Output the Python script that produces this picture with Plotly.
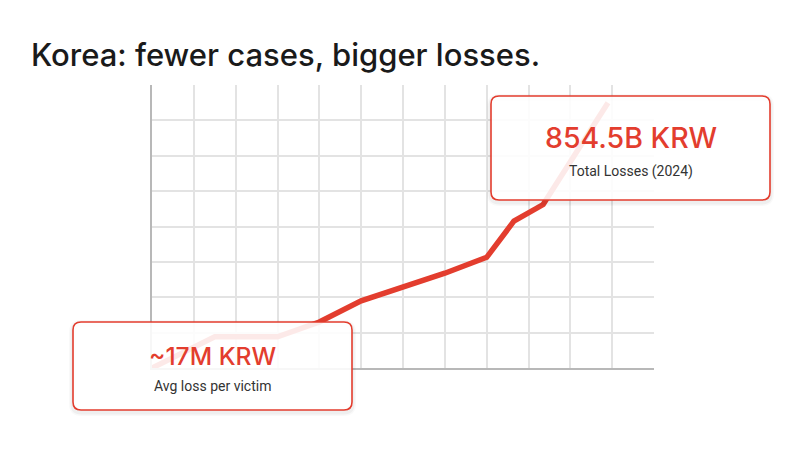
import plotly.graph_objects as go

# ---- data (grid units) ----
x_vals = [0, 1.5, 3, 4, 5, 6, 7, 8, 8.65, 9.35, 10.9]
y_vals = [0, 0.88, 0.88, 1.3, 1.9, 2.29, 2.68, 3.13, 4.15, 4.62, 7.5]
x_grid = [1, 2, 3, 4, 5, 6, 7, 8, 9, 10, 11]
y_grid = [1, 2, 3, 4, 5, 6, 7]

title_text = "Korea: fewer cases, bigger losses."
card_values = ["854.5B KRW", "~17M KRW"]
card_labels = ["Total Losses (2024)", "Avg loss per victim"]

RED = "#e33d2e"

OFF = 8  # page body margin
W, H = 806, 453
L, R, T, B = 152 - OFF, 654 - OFF, 85 - OFF, 368 - OFF


def px(xp):
    return (xp - OFF - L) / (R - L)


def py(yp):
    return (B - (yp - OFF)) / (B - T)


def rrect(x0, y0, x1, y1, r):
    pts = [
        ("M", [(x0 + r, y0)]),
        ("L", [(x1 - r, y0)]),
        ("Q", [(x1, y0), (x1, y0 + r)]),
        ("L", [(x1, y1 - r)]),
        ("Q", [(x1, y1), (x1 - r, y1)]),
        ("L", [(x0 + r, y1)]),
        ("Q", [(x0, y1), (x0, y1 - r)]),
        ("L", [(x0, y0 + r)]),
        ("Q", [(x0, y0), (x0 + r, y0)]),
    ]
    s = ""
    for cmd, ps in pts:
        s += cmd + " " + " ".join(f"{px(a):.5f},{py(b):.5f}" for a, b in ps) + " "
    return s + "Z"


fig = go.Figure()
fig.add_trace(go.Scatter(
    x=x_vals, y=y_vals, mode="lines",
    line=dict(color=RED, width=5.5),
    hoverinfo="skip", showlegend=False,
))

cards = [
    (491, 96, 770, 200),
    (73, 322, 352, 410),
]
shapes = []
for (x0, y0, x1, y1) in cards:
    # soft shadow (outline only, so the card stays white)
    for d, a in [(4, 0.025), (2.5, 0.04)]:
        shapes.append(dict(type="path", xref="paper", yref="paper", layer="above",
                           path=rrect(x0, y0 + 2, x1, y1 + 2, 8),
                           fillcolor="rgba(0,0,0,0)",
                           line=dict(color=f"rgba(0,0,0,{a})", width=2 * d)))
    shapes.append(dict(type="path", xref="paper", yref="paper", layer="above",
                       path=rrect(x0, y0, x1, y1, 8),
                       fillcolor="rgba(255,255,255,0.89)",
                       line=dict(color=RED, width=1.6)))

annotations = [
    dict(text=title_text, xref="paper", yref="paper", x=px(29), y=py(55),
         xanchor="left", yanchor="middle", showarrow=False,
         font=dict(family="Inter", size=31, color="#1a1a1a", weight=500)),
]
centers = [((491 + 770) / 2, 137, 171), ((73 + 352) / 2, 356, 386)]
for (cx, vy, ly), v, lab in zip(centers, card_values, card_labels):
    annotations.append(dict(text=v, xref="paper", yref="paper", x=px(cx), y=py(vy),
                            xanchor="center", yanchor="middle", showarrow=False,
                            font=dict(family="Inter", size=28.5 if v.startswith("8") else 24.6,
                                      color=RED, weight=500)))
    annotations.append(dict(text=lab, xref="paper", yref="paper", x=px(cx), y=py(ly),
                            xanchor="center", yanchor="middle", showarrow=False,
                            font=dict(family="Roboto", size=14, color="#333333")))

fig.update_layout(
    width=W, height=H,
    margin=dict(l=L, r=W - R, t=T, b=H - B),
    paper_bgcolor="white", plot_bgcolor="white",
    shapes=shapes, annotations=annotations,
    hovermode=False,
    xaxis=dict(range=[0, 12], tickvals=x_grid, showticklabels=False, ticks="",
               showgrid=True, gridcolor="#e3e3e3", gridwidth=1.5, zeroline=False,
               showline=True, linecolor="#b8b8b8", linewidth=2, fixedrange=True),
    yaxis=dict(range=[0, 8], tickvals=y_grid, showticklabels=False, ticks="",
               showgrid=True, gridcolor="#e3e3e3", gridwidth=1.5, zeroline=False,
               showline=True, linecolor="#b8b8b8", linewidth=2, fixedrange=True),
)

fig.write_html("out.html")
